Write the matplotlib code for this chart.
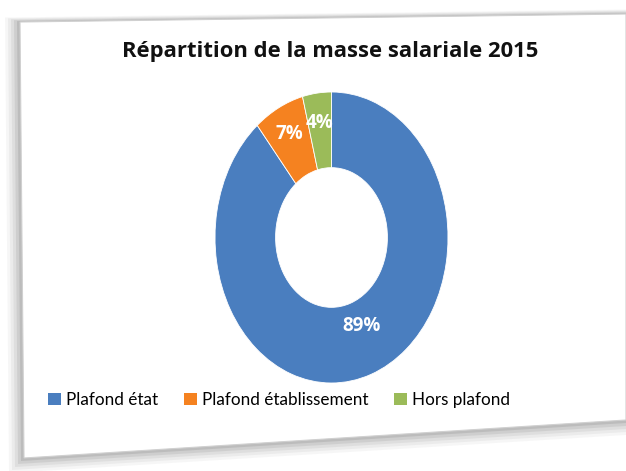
import matplotlib
matplotlib.use("Agg")
import matplotlib.pyplot as plt
from matplotlib.patches import Polygon, Rectangle
import numpy as np

categories = ["Plafond état", "Plafond établissement", "Hors plafond"]
values = [89, 7, 4]
colors = ["#4A7EBF", "#F58220", "#9BBB59"]
title = "Répartition de la masse salariale 2015"

W, H = 626, 471
fig = plt.figure(figsize=(W / 100, H / 100), dpi=100)
fig.patch.set_facecolor("white")

def px(pts):
    return [(x / W, 1 - y / H) for x, y in pts]

# card shadow and card
card = [(20, 22), (626, 14), (626, 420), (24, 458)]
for i, a in enumerate([0.05, 0.07, 0.09, 0.12, 0.16]):
    d = (5 - i) * 3
    sh = [(20 - d, 22 - d * 0.3), (626, 14 - d * 0.3), (626, 420 + d), (24 - d, 458 + d)]
    fig.patches.append(Polygon(px(sh), closed=True, transform=fig.transFigure,
                               facecolor="#606060", edgecolor="none", alpha=a, zorder=0))
fig.patches.append(Polygon(px(card), closed=True, transform=fig.transFigure,
                           facecolor="white", edgecolor="#d0d0d0", lw=0.8, zorder=0.5))

font = ["Open Sans", "DejaVu Sans"]
lfont = ["Lato", "DejaVu Sans"]

fig.text(330 / W, 1 - 52 / H, title, ha="center", va="center",
         fontsize=15.8, fontweight="bold", family=font, color="#111111", zorder=3)

ax = fig.add_axes([215 / W, 1 - 383 / H, 233 / W, 291 / H])
ax.set_zorder(3)
ax.patch.set_alpha(0)
wedges, texts = ax.pie(values, colors=colors, startangle=90, counterclock=False,
                       radius=1.0, wedgeprops=dict(width=0.52, edgecolor="white", linewidth=0.6))
ax.set_aspect("auto")
ax.set_xlim(-1, 1)
ax.set_ylim(-1, 1)
ax.axis("off")

# percentage labels
label_r = [0.66, 0.80, 0.79]
start = 90.0
for i, v in enumerate(values):
    span = v / sum(values) * 360
    mid = start - span / 2
    start -= span
    t = np.deg2rad(mid + (3 if i == 0 else 0))
    ax.text(label_r[i] * np.cos(t), label_r[i] * np.sin(t), f"{v}%",
            ha="center", va="center", color="white", fontsize=13.5,
            fontweight="bold", family=font)

# legend
handles = [Rectangle((0, 0), 1, 1, facecolor=c, edgecolor="none") for c in colors]
leg = fig.legend(handles, categories, loc="center", bbox_to_anchor=(279 / W, 1 - 400 / H),
                 ncol=3, frameon=False, prop=dict(family=lfont, size=12.3),
                 handlelength=0.75, handleheight=0.75, handletextpad=0.3, columnspacing=1.5)
leg.set_zorder(3)

fig.savefig("out.png", dpi=100, facecolor="white")
